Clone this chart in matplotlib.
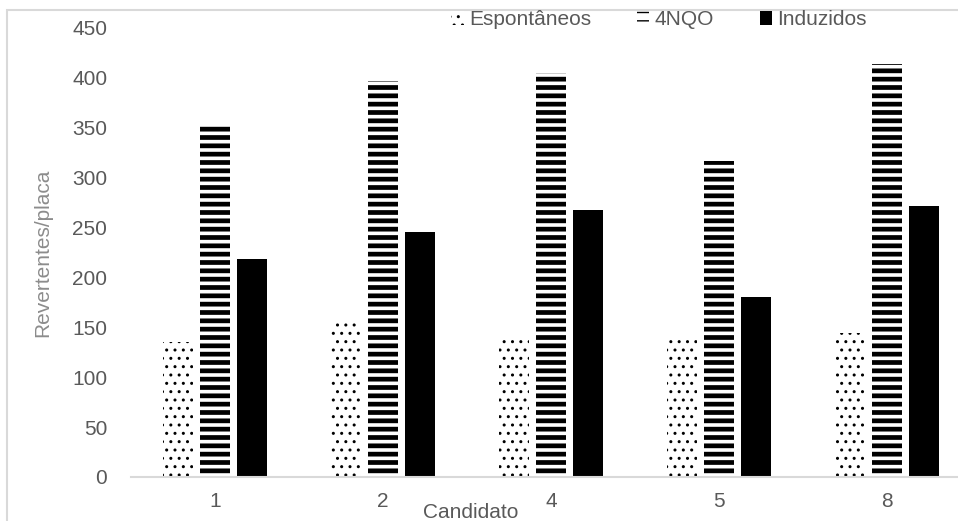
import numpy as np
import matplotlib.pyplot as plt
from matplotlib.patches import Rectangle

plt.rcParams['font.family'] = ['Liberation Sans', 'DejaVu Sans']

candidatos = ['1', '2', '4', '5', '8']
espontaneos = [135, 154, 140, 138, 144]
nqo = [352, 397, 405, 317, 414]
induzidos = [218, 246, 268, 180, 272]

series = [
    ('Espontâneos', espontaneos, '..', 1.0),
    ('4NQO', nqo, '--', 3.4),
    ('Induzidos', induzidos, None, 1.0),
]

fs = 15
fig = plt.figure(figsize=(9.58, 5.21), dpi=100)
ax = fig.add_axes([0.1367, 0.0845, 0.8768, 0.8618])

x = np.arange(len(candidatos))
w = 0.179
step = 0.22
handles = []
for i, (name, vals, hatch, hlw) in enumerate(series):
    with plt.rc_context({'hatch.linewidth': hlw}):
        if hatch:
            bars = ax.bar(x + (i - 1) * step, vals, w, facecolor='white',
                          edgecolor='black', linewidth=0, hatch=hatch, label=name)
        else:
            bars = ax.bar(x + (i - 1) * step, vals, w, color='black',
                          linewidth=0, label=name)
    for b in bars:
        if hasattr(b, 'set_hatch_linewidth'):
            b.set_hatch_linewidth(hlw)
    handles.append(bars)

ax.set_xlim(-0.5, len(candidatos) - 0.5)
ax.set_ylim(0, 450)
ax.set_yticks(np.arange(0, 451, 50))
ax.set_xticks(x)
ax.set_xticklabels(candidatos)
ax.tick_params(length=0, labelsize=fs, colors='#595959')
ax.tick_params(axis='y', pad=17)
ax.tick_params(axis='x', pad=11)
for s in ['top', 'right', 'left']:
    ax.spines[s].set_visible(False)
ax.spines['bottom'].set_color('#d9d9d9')
ax.spines['bottom'].set_linewidth(1.5)

ax.set_ylabel('Revertentes/placa', fontsize=fs, color='#8c8c8c', va='center')
ax.yaxis.set_label_coords(-0.105, 0.5)
ax.set_xlabel('Candidato', fontsize=fs, color='#595959', va='center')
ax.xaxis.set_label_coords(0.405, -0.08)

leg = fig.legend(handles=handles, loc='center', bbox_to_anchor=(0.688, 0.962),
                 ncol=3, frameon=False, fontsize=fs, handlelength=0.6,
                 handleheight=0.6, handletextpad=0.25, columnspacing=2.2,
                 labelcolor='#595959')

# outer chart border
fig.patches.append(Rectangle((7 / 958, -0.1), 1.2, 1 - 10 / 521 + 0.1,
                             transform=fig.transFigure, fill=False,
                             edgecolor='#d9d9d9', linewidth=1.5))

fig.savefig('out.png', dpi=100)
